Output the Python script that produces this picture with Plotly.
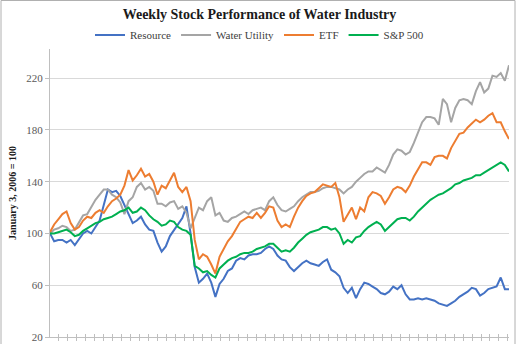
import pandas as pd
import plotly.graph_objects as go

# Weekly index values (January 3, 2006 = 100), sampled every 4 weeks
dates = pd.date_range("2006-01-03", periods=112, freq="28D")

resource = [
    100, 94, 95, 95, 93, 95, 91, 96, 100, 102,
    100, 105, 110, 122, 134, 132, 133, 129, 122, 114,
    108, 110, 113, 107, 103, 102, 93, 86, 90, 98,
    103, 107, 112, 121, 100, 74, 62, 65, 69, 62,
    51, 61, 65, 71, 73, 79, 81, 80, 83, 84,
    84, 85, 88, 90, 88, 83, 80, 79, 74, 71,
    74, 77, 79, 77, 76, 75, 78, 80, 72, 70,
    67, 58, 54, 58, 50, 57, 62, 61, 59, 57,
    54, 53, 55, 59, 57, 60, 53, 49, 49, 50,
    49, 50, 49, 48, 46, 45, 44, 46, 48, 51,
    53, 55, 58, 57, 52, 54, 57, 58, 59, 66,
    57, 57,
]

water_utility = [
    100, 103, 104, 106, 105, 102, 103, 109, 114, 115,
    121, 126, 130, 134, 134, 130, 128, 124, 115, 125,
    128, 136, 139, 134, 136, 133, 123, 123, 121, 124,
    125, 119, 121, 116, 104, 112, 120, 118, 125, 128,
    114, 116, 110, 109, 112, 113, 115, 117, 115, 118,
    119, 120, 118, 125, 128, 122, 118, 117, 119, 121,
    125, 128, 130, 132, 132, 133, 135, 136, 136, 135,
    134, 131, 134, 136, 140, 143, 146, 148, 148, 151,
    149, 147, 153, 161, 165, 164, 161, 163, 170, 178,
    186, 190, 190, 189, 184, 204, 200, 186, 197, 203,
    204, 203, 200, 210, 217, 209, 212, 222, 221, 224,
    218, 230,
]

etf = [
    101, 107, 111, 115, 117, 108, 103, 105, 110, 113,
    112, 116, 118, 116, 121, 125, 127, 130, 137, 149,
    141, 145, 150, 144, 146, 140, 130, 137, 135, 141,
    147, 136, 132, 136, 125, 95, 80, 84, 82, 76,
    69, 82, 88, 94, 98, 104, 109, 111, 113, 112,
    116, 112, 116, 121, 120, 110, 105, 107, 105, 113,
    120, 125, 129, 131, 132, 135, 138, 137, 136, 139,
    128, 109, 114, 120, 111, 120, 117, 128, 132, 131,
    129, 123, 128, 134, 136, 135, 132, 137, 144, 150,
    155, 155, 153, 159, 160, 160, 158, 166, 172, 177,
    178, 182, 185, 188, 186, 188, 191, 193, 186, 186,
    179, 173,
]

sp500 = [
    100, 100, 101, 102, 103, 101, 98, 99, 102, 104,
    106, 108, 109, 111, 112, 113, 115, 117, 118, 120,
    116, 117, 120, 118, 114, 111, 109, 106, 107, 110,
    109, 105, 103, 102, 99, 75, 73, 70, 71, 68,
    66, 73, 76, 79, 81, 82, 84, 85, 85, 86,
    88, 89, 90, 92, 92, 89, 86, 87, 86, 89,
    93, 96, 99, 101, 102, 103, 105, 105, 103, 104,
    100, 92, 95, 93, 97, 98, 102, 105, 107, 109,
    107, 102, 105, 108, 111, 112, 112, 110, 113, 117,
    120, 123, 126, 128, 130, 131, 133, 135, 138, 139,
    141, 142, 143, 145, 145, 147, 149, 151, 153, 155,
    153, 148,
]

series_names = ["Resource", "Water Utility", "ETF", "S&P 500"]
series_values = [resource, water_utility, etf, sp500]
series_colors = ["#4472C4", "#A5A5A5", "#ED7D31", "#00B050"]

y_ticks = [20, 60, 100, 140, 180, 220]

FONT = "Liberation Serif, Times New Roman, serif"
GRID = "#d9d9d9"
AXIS = "#bfbfbf"

fig = go.Figure()
for i, (name, vals, col) in enumerate(zip(series_names, series_values, series_colors)):
    fig.add_trace(go.Scatter(
        x=dates, y=vals, name=name, mode="lines",
        line=dict(color=col, width=2),
        xaxis="x2" if i == len(series_names) - 1 else "x",
    ))

x_range = [dates[0], dates[-1]]

fig.update_layout(
    width=519, height=344,
    margin=dict(l=50, r=10, t=49, b=7, autoexpand=False),
    paper_bgcolor="white", plot_bgcolor="white",
    font=dict(family=FONT, size=11, color="#595959"),
    title=dict(
        text="<b>Weekly Stock Performance of Water Industry</b>",
        x=0.5, xref="container", xanchor="center",
        y=1 - 14 / 344, yref="container", yanchor="middle",
        font=dict(family=FONT, size=14, color="#1a1a1a"),
    ),
    legend=dict(
        orientation="h", x=0.5, xref="container", xanchor="center",
        y=1 - 35 / 344, yref="container", yanchor="middle",
        font=dict(family=FONT, size=11, color="#404040"),
        itemwidth=30, bgcolor="rgba(0,0,0,0)",
    ),
    xaxis=dict(
        type="date", range=x_range,
        showgrid=False, zeroline=False,
        showline=True, linecolor=AXIS, linewidth=1,
        ticks="outside", ticklen=3, tickcolor=AXIS, tickwidth=1,
        tick0="2006-01-01", dtick="M2",
        showticklabels=False,
    ),
    xaxis2=dict(
        type="date", range=x_range, overlaying="x", anchor="y", side="bottom",
        showgrid=False, zeroline=False, showline=False,
        ticks="inside", ticklen=3, tickcolor=AXIS, tickwidth=1,
        tick0="2006-01-01", dtick="M2",
        showticklabels=False,
    ),
    yaxis=dict(
        range=[20, 242.6],
        tickvals=y_ticks, ticktext=[str(v) for v in y_ticks],
        showgrid=True, gridcolor=GRID, gridwidth=1,
        zeroline=False,
        showline=True, linecolor=AXIS, linewidth=1,
        ticks="outside", ticklen=4, tickcolor=AXIS,
        tickfont=dict(family=FONT, size=11, color="#595959"),
        title=dict(
            text="<b>January 3, 2006 = 100</b>",
            font=dict(family=FONT, size=10, color="#1a1a1a"),
            standoff=7,
        ),
    ),
    showlegend=True,
)

# outer chart border
fig.add_shape(
    type="rect", xref="paper", yref="paper",
    x0=(1 - 50) / 459, x1=(515 - 50) / 459,
    y0=(337.5 - 350) / 288, y1=(337.5 - 1) / 288,
    line=dict(color="#b0b0b0", width=1), fillcolor="rgba(0,0,0,0)",
    layer="below",
)

fig.write_html("out.html")
